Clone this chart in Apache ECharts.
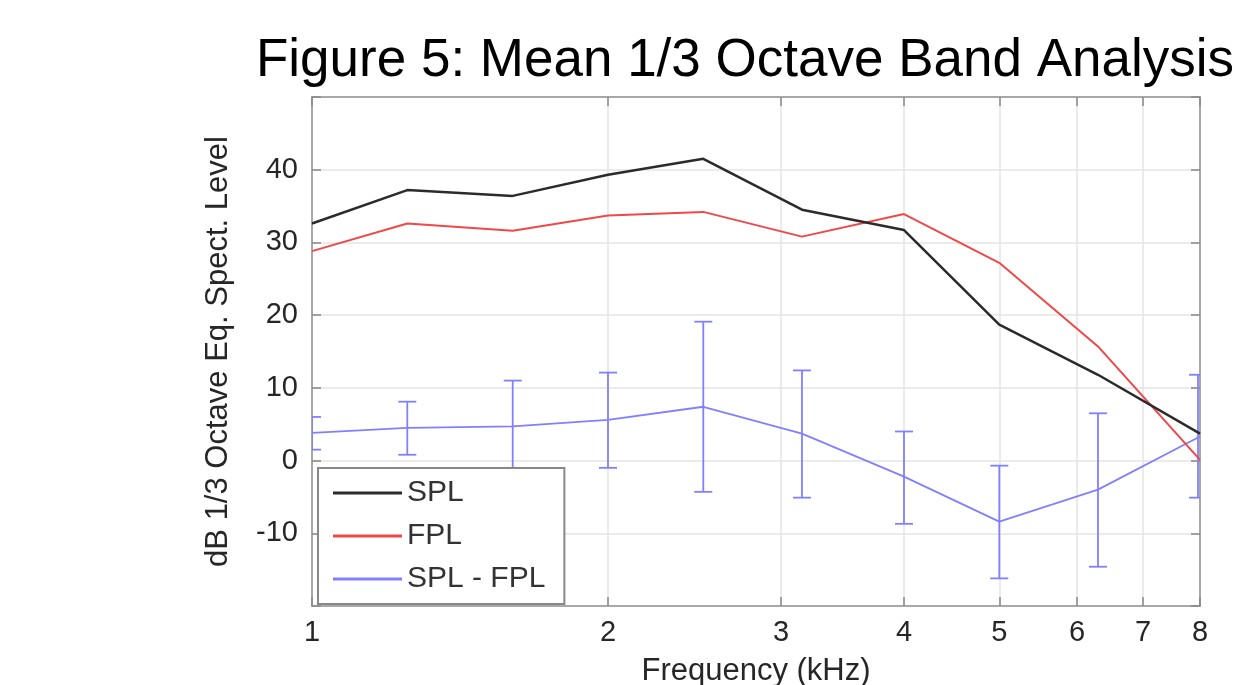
<!DOCTYPE html>
<html>
<head>
<meta charset="utf-8">
<script src="https://cdn.jsdelivr.net/npm/echarts@6/dist/echarts.min.js"></script>
<style>
  html, body { margin: 0; padding: 0; background: #fff; }
  #chart { width: 1235px; height: 685px; }
</style>
</head>
<body>
<div id="chart"></div>
<script>
// 1/3 octave band centre frequencies (kHz)
var freqs = [1, 1.25, 1.6, 2, 2.5, 3.15, 4, 5, 6.3, 8];
var spl = [32.6, 37.2, 36.4, 39.3, 41.5, 34.5, 31.7, 18.7, 11.8, 3.7];
var fpl = [28.8, 32.6, 31.6, 33.7, 34.2, 30.8, 33.9, 27.2, 15.7, 0.1];
var diff = [3.8, 4.5, 4.7, 5.6, 7.4, 3.7, -2.2, -8.4, -4.0, 3.3];
var errLow = [1.5, 0.8, -1.0, -1.0, -4.3, -5.1, -8.7, -16.2, -14.6, -5.1];
var errHigh = [6.0, 8.1, 11.0, 12.1, 19.1, 12.4, 4.0, -0.7, 6.5, 11.8];
var xTicks = [1, 2, 3, 4, 5, 6, 7, 8];

var FONT = 'Liberation Sans';
var AXIS_COLOR = '#a8a8a8';
var TEXT_COLOR = '#262626';

function pairs(ys) {
  return freqs.map(function(f, i) { return [f, ys[i]]; });
}

var errData = freqs.map(function(f, i) { return [f, errLow[i], errHigh[i]]; });

var chart = echarts.init(document.getElementById('chart'));

var xBase = {
  type: 'log',
  logBase: 2,
  min: 1,
  max: 8,
  axisLine: { show: true, onZero: false, lineStyle: { color: AXIS_COLOR, width: 2 } },
  axisTick: { show: true, inside: true, length: 9, customValues: xTicks, lineStyle: { color: '#888', width: 1.5 } }
};

var yBase = {
  type: 'value',
  min: -20,
  max: 50,
  interval: 10,
  axisLine: { show: true, onZero: false, lineStyle: { color: AXIS_COLOR, width: 2 } },
  axisTick: { show: true, inside: true, length: 9, lineStyle: { color: '#888', width: 1.5 } }
};

chart.setOption({
  animation: false,
  backgroundColor: '#fff',
  title: {
    text: 'Figure 5: Mean 1/3 Octave Band Analysis',
    left: 740,
    textAlign: 'center',
    top: 30,
    textStyle: { fontFamily: FONT, fontSize: 53, fontWeight: 'normal', color: '#000' }
  },
  grid: { left: 312, top: 97, width: 888, height: 509, containLabel: false, outerBoundsMode: 'none' },
  legend: {
    orient: 'vertical',
    left: 318,
    top: 468,
    padding: [10, 19, 10, 15],
    itemWidth: 69,
    itemHeight: 3,
    itemGap: 13,
    icon: 'rect',
    backgroundColor: '#fff',
    borderColor: '#888',
    borderWidth: 2,
    borderRadius: 0,
    textStyle: { fontFamily: FONT, fontSize: 30, color: '#333' },
    data: ['SPL', 'FPL', 'SPL - FPL']
  },
  xAxis: [
    Object.assign({}, xBase, {
      position: 'bottom',
      name: 'Frequency (kHz)',
      nameLocation: 'middle',
      nameGap: 50,
      nameTextStyle: { fontFamily: FONT, fontSize: 31, color: TEXT_COLOR },
      axisLabel: { show: true, customValues: xTicks, margin: 12, fontFamily: FONT, fontSize: 29, color: TEXT_COLOR },
      splitLine: { show: true, lineStyle: { color: '#e4e4e4', width: 1.5 } }
    }),
    Object.assign({}, xBase, {
      position: 'top',
      axisLabel: { show: false },
      splitLine: { show: false }
    })
  ],
  yAxis: [
    Object.assign({}, yBase, {
      position: 'left',
      name: 'dB 1/3 Octave Eq. Spect. Level',
      nameLocation: 'middle',
      nameGap: 78,
      nameTextStyle: { fontFamily: FONT, fontSize: 31, color: TEXT_COLOR },
      axisLabel: {
        margin: 14, fontFamily: FONT, fontSize: 29, color: TEXT_COLOR,
        formatter: function(v) { return (v === 50 || v === -20) ? '' : String(v); }
      },
      splitLine: { show: true, lineStyle: { color: '#e4e4e4', width: 1.5 } }
    }),
    Object.assign({}, yBase, {
      position: 'right',
      axisLabel: { show: false },
      splitLine: { show: false }
    })
  ],
  series: [
    {
      name: 'SPL',
      type: 'line',
      data: pairs(spl),
      showSymbol: false,
      color: '#2b2b2b',
      lineStyle: { color: '#2b2b2b', width: 2.5 },
      z: 4
    },
    {
      name: 'FPL',
      type: 'line',
      data: pairs(fpl),
      showSymbol: false,
      color: '#f04848',
      lineStyle: { color: '#f04848', width: 2 },
      z: 3
    },
    {
      name: 'SPL - FPL',
      type: 'line',
      data: pairs(diff),
      showSymbol: false,
      color: '#8080ff',
      lineStyle: { color: '#8080ff', width: 1.8 },
      z: 2
    },
    {
      name: 'err',
      type: 'custom',
      data: errData,
      z: 2,
      clip: true,
      renderItem: function(params, api) {
        var x = api.value(0);
        var lo = api.coord([x, api.value(1)]);
        var hi = api.coord([x, api.value(2)]);
        var w = 9;
        var style = { stroke: '#8080ff', lineWidth: 1.8, fill: 'none' };
        // keep the 8 kHz bar just inside the right border
        var px = Math.min(hi[0], params.coordSys.x + params.coordSys.width - 2);
        return {
          type: 'group',
          children: [
            { type: 'line', shape: { x1: px, y1: hi[1], x2: px, y2: lo[1] }, style: style },
            { type: 'line', shape: { x1: px - w, y1: hi[1], x2: px + w, y2: hi[1] }, style: style },
            { type: 'line', shape: { x1: px - w, y1: lo[1], x2: px + w, y2: lo[1] }, style: style }
          ]
        };
      }
    }
  ]
});
</script>
</body>
</html>
